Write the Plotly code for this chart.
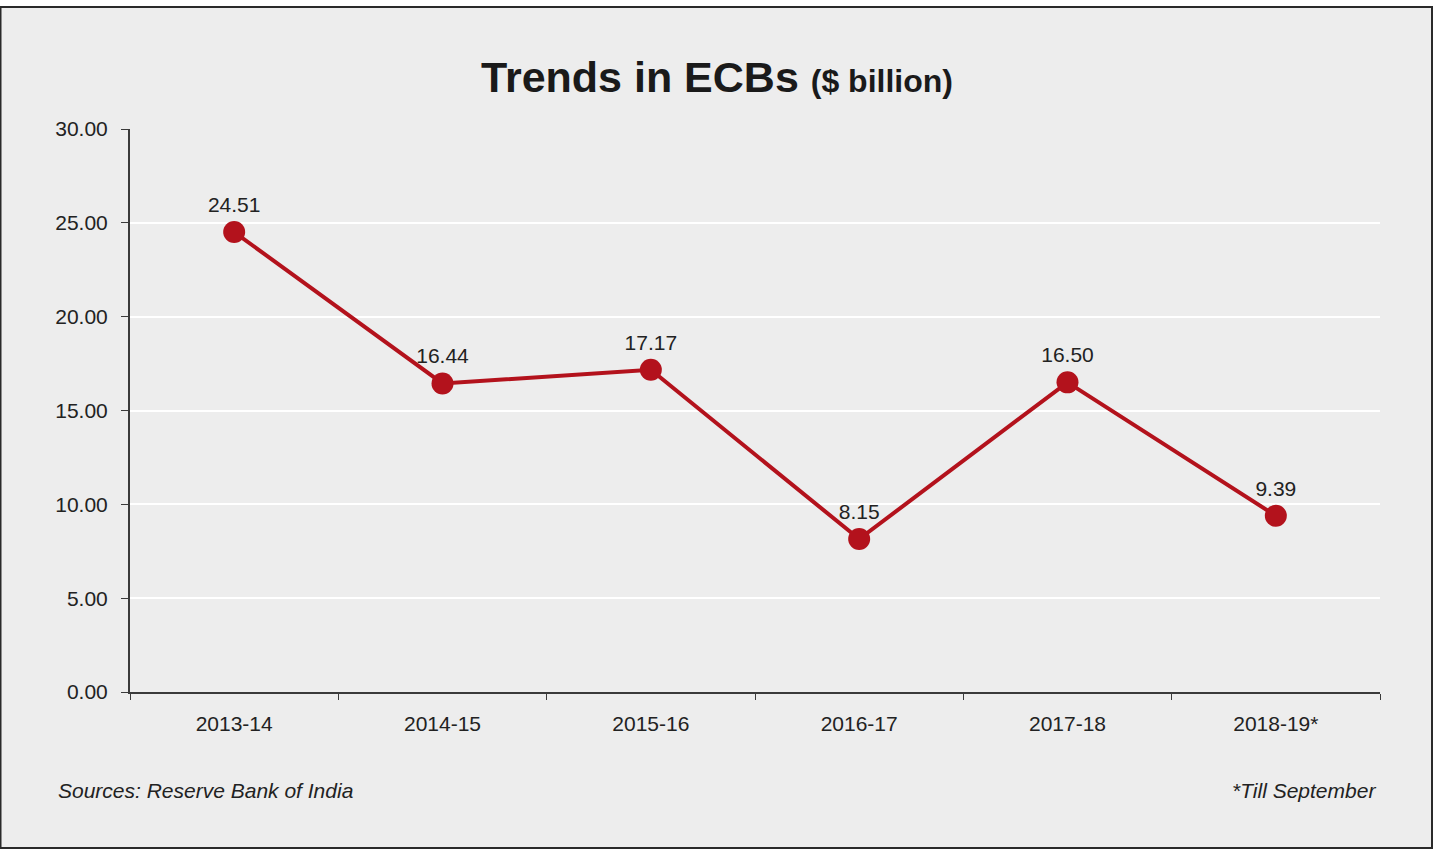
import plotly.graph_objects as go

# ECB trend data ($ billion)
years = ['2013-14', '2014-15', '2015-16', '2016-17', '2017-18', '2018-19*']
ecb_values = [24.51, 16.44, 17.17, 8.15, 16.50, 9.39]
ecb_labels = ['24.51', '16.44', '17.17', '8.15', '16.50', '9.39']
y_ticks = [0, 5, 10, 15, 20, 25, 30]

bg = '#EDEDED'
red = '#B3121C'
ink = '#222222'
sans = 'Liberation Sans, Arial, sans-serif'

fig = go.Figure()
fig.add_trace(go.Scatter(
    x=years,
    y=ecb_values,
    mode='lines+markers+text',
    text=ecb_labels,
    textposition='top center',
    textfont=dict(family=sans, size=21, color=ink),
    line=dict(color=red, width=4),
    marker=dict(color=red, size=22),
    cliponaxis=False,
    hoverinfo='x+y',
))

fig.update_layout(
    width=1433,
    height=849,
    margin=dict(l=130, r=53, t=129, b=157),
    paper_bgcolor='white',
    plot_bgcolor=bg,
    showlegend=False,
    font=dict(family=sans, size=21, color=ink),
)

# grey panel with dark frame
fig.add_shape(type='rect', xref='paper', yref='paper',
              x0=-0.1036, x1=1.0416, y0=-0.2771, y1=1.2167,
              fillcolor=bg, line=dict(color='#2a2a2a', width=2), layer='below')

fig.update_xaxes(
    range=[-0.5, 5.5],
    showgrid=False,
    showline=True, linecolor='#3a3a3a', linewidth=2,
    ticks='outside', tickson='boundaries', ticklen=6, tickcolor='#3a3a3a',
    tickfont=dict(family=sans, size=21, color=ink),
    ticklabelstandoff=12,
)
fig.update_yaxes(
    range=[0, 30],
    tickvals=y_ticks,
    tickformat='.2f',
    showgrid=True, gridcolor='white', gridwidth=2,
    zeroline=False,
    showline=True, linecolor='#3a3a3a', linewidth=2,
    ticks='outside', ticklen=7, tickcolor='#3a3a3a',
    tickfont=dict(family=sans, size=21, color=ink),
    ticklabelstandoff=9,
)

fig.add_annotation(
    xref='paper', yref='paper', x=0.4696, y=1.092,
    xanchor='center', yanchor='middle', showarrow=False,
    text="<b>Trends in ECBs</b> <span style='font-size:32px'><b>($ billion)</b></span>",
    font=dict(family=sans, size=43, color='#1a1a1a'),
)
fig.add_annotation(
    xref='paper', yref='paper', x=-0.0592, y=-0.1741,
    xanchor='left', yanchor='middle', showarrow=False,
    text='<i>Sources: Reserve Bank of India</i>',
    font=dict(family=sans, size=21, color=ink),
)
fig.add_annotation(
    xref='paper', yref='paper', x=0.9984, y=-0.1741,
    xanchor='right', yanchor='middle', showarrow=False,
    text='<i>*Till September</i>',
    font=dict(family=sans, size=21, color=ink),
)

# drop the default page margin so the figure sits at the window corner
fig.write_html('out.html', config={'displayModeBar': False},
               post_script="document.body.style.margin='0';")
